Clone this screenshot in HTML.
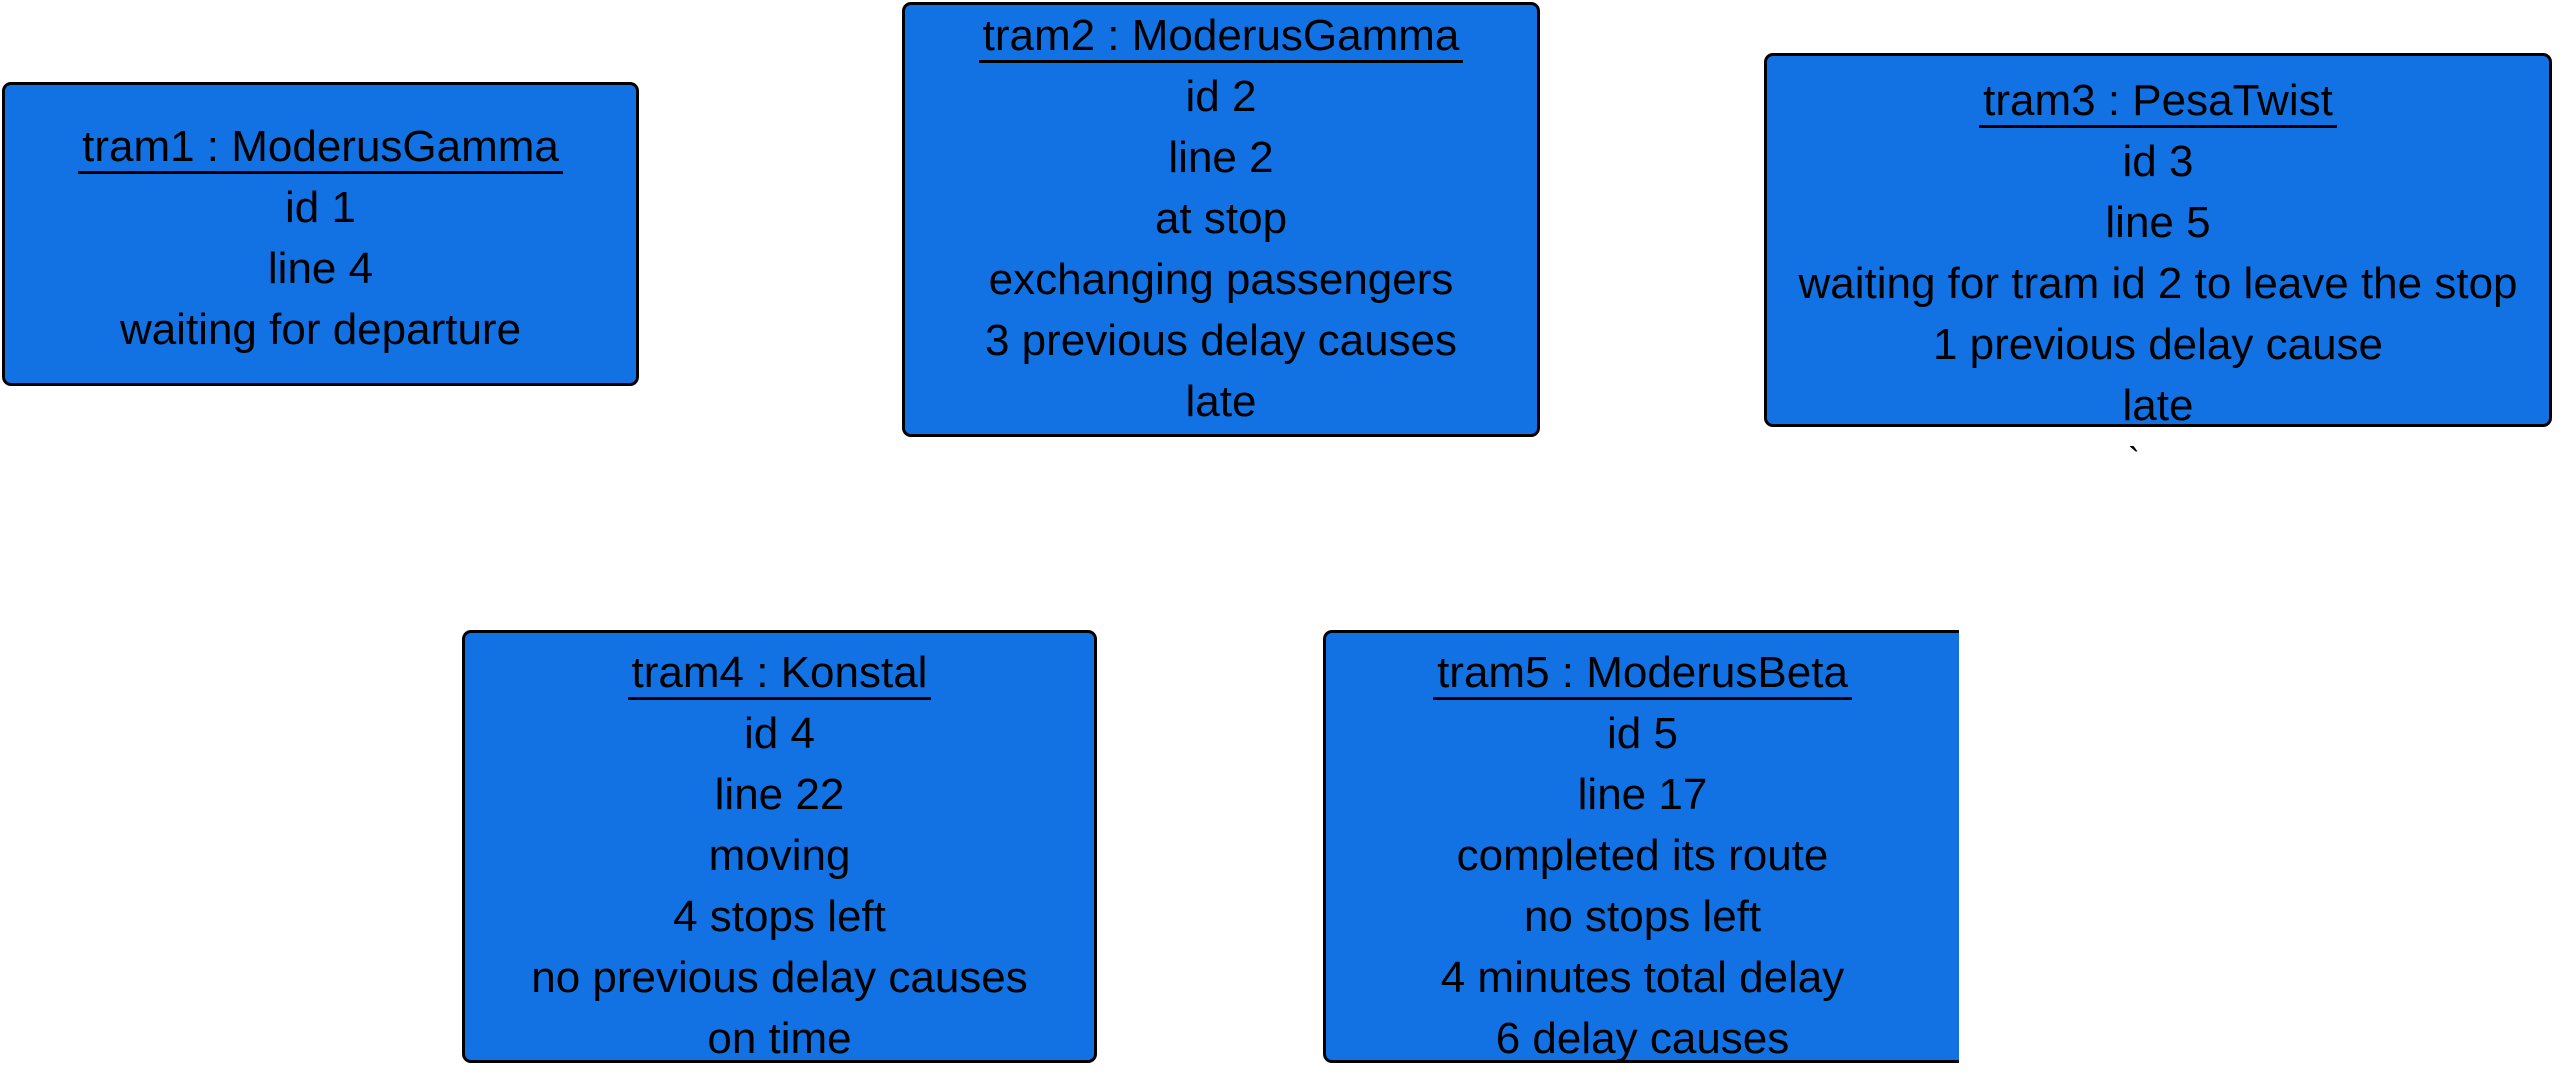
<!DOCTYPE html>
<html><head><meta charset="utf-8"><style>
html,body{margin:0;padding:0;background:#fff;}
body{width:2568px;height:1076px;position:relative;overflow:hidden;font-family:"Liberation Sans",sans-serif;}
.box{position:absolute;background:#1272E3;border:3px solid #000;border-radius:9px;box-sizing:border-box;}
.ln{position:absolute;left:0;right:0;text-align:center;font-size:44px;line-height:60px;height:60px;color:#000;white-space:nowrap;}
.ttl span{border-bottom:3px solid #000;padding:0 4px 0 4px;}
</style></head><body>
<div id="root"></div>
<div style="position:absolute;left:2128px;top:440px;font-size:36px;">`</div>
<script>
const boxes=[
 {name:'tram1',x:2,y:82,w:637,h:304,t:65,title:'tram1 : ModerusGamma',lines:['id 1','line 4','waiting for departure']},
 {name:'tram2',x:902,y:2,w:638,h:435,t:34,title:'tram2 : ModerusGamma',lines:['id 2','line 2','at stop','exchanging passengers','3 previous delay causes','late']},
 {name:'tram3',x:1764,y:53,w:788,h:374,t:48,title:'tram3 : PesaTwist',lines:['id 3','line 5','waiting for tram id 2 to leave the stop','1 previous delay cause','late']},
 {name:'tram4',x:462,y:630,w:635,h:433,t:43,title:'tram4 : Konstal',lines:['id 4','line 22','moving','4 stops left','no previous delay causes','on time']},
 {name:'tram5',x:1323,y:630,w:636,h:433,t:43,title:'tram5 : ModerusBeta',lines:['id 5','line 17','completed its route','no stops left','4 minutes total delay','6 delay causes'],noRight:true}
];
const root=document.getElementById('root');
boxes.forEach(b=>{
 const d=document.createElement('div');
 d.className='box';
 
 
 d.style.left=b.x+'px';d.style.top=b.y+'px';d.style.width=b.w+'px';d.style.height=b.h+'px';
 if(b.noRight){d.style.borderRight='none';d.style.borderTopRightRadius='0';d.style.borderBottomRightRadius='0';}
 const t=document.createElement('div');
 t.className='ln ttl';
 
 
 t.style.top=(b.t-30-3)+'px';
 const s=document.createElement('span');s.textContent=b.title;t.appendChild(s);
 d.appendChild(t);
 b.lines.forEach((l,i)=>{
  const e=document.createElement('div');
  e.className='ln';
  
  
  e.style.top=(b.t+61*(i+1)-30-3)+'px';
  e.textContent=l;
  d.appendChild(e);
 });
 root.appendChild(d);
});
</script>
</body></html>
